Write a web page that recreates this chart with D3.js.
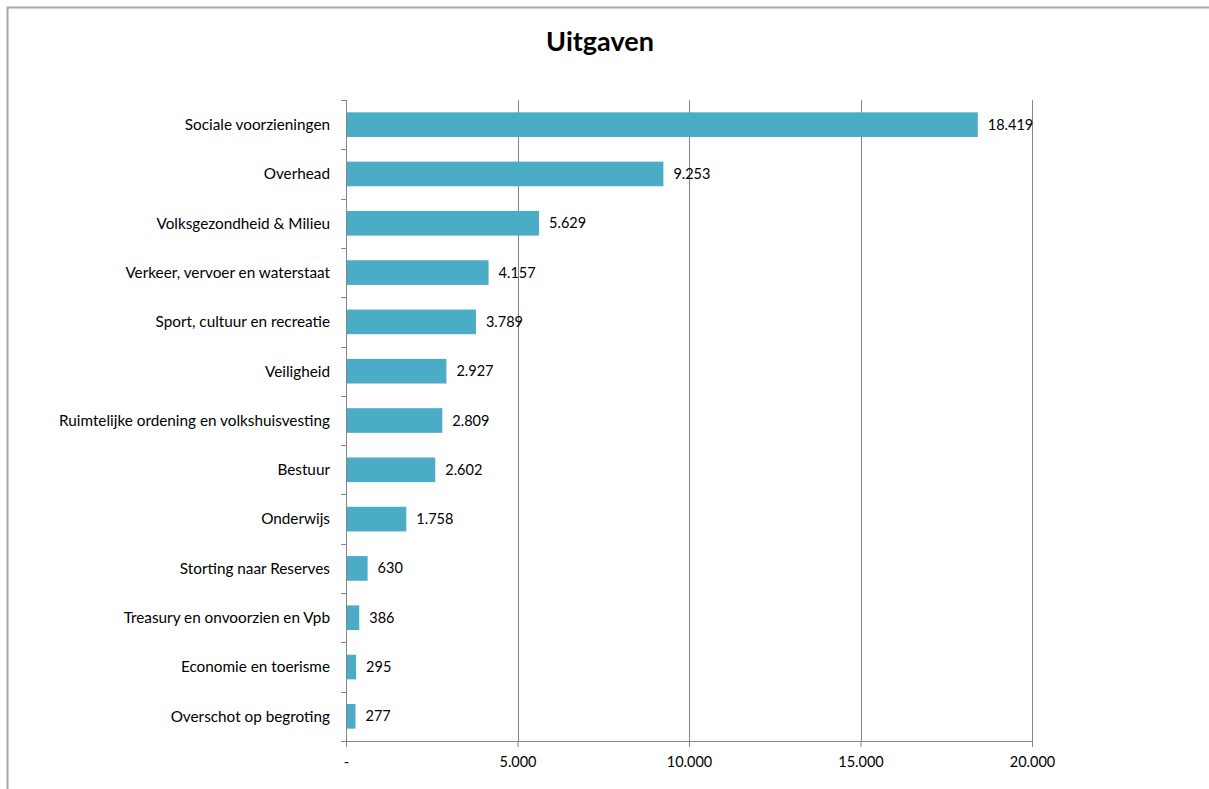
<!DOCTYPE html>
<html>
<head>
<meta charset="utf-8">
<script src="https://cdn.jsdelivr.net/npm/d3@7"></script>
<style>
  body { margin: 0; background: #fff; }
  svg { font-family: Lato, Carlito, Calibri, sans-serif; }
</style>
</head>
<body>
<svg id="chart"></svg>
<script>
const categories = [
  'Sociale voorzieningen',
  'Overhead',
  'Volksgezondheid & Milieu',
  'Verkeer, vervoer en waterstaat',
  'Sport, cultuur en recreatie',
  'Veiligheid',
  'Ruimtelijke ordening en volkshuisvesting',
  'Bestuur',
  'Onderwijs',
  'Storting naar Reserves',
  'Treasury en onvoorzien en Vpb',
  'Economie en toerisme',
  'Overschot op begroting'
];
const values = [18419, 9253, 5629, 4157, 3789, 2927, 2809, 2602, 1758, 630, 386, 295, 277];
const tickValues = [0, 5000, 10000, 15000, 20000];
const title = 'Uitgaven';

const width = 1209;
const height = 789;
const margin = { top: 100, left: 346, right: 177, bottom: 48 };

const svg = d3.select('#chart')
              .attr('width', width)
              .attr('height', height);

// outer frame (only top and left edge visible)
svg.append('path')
   .attr('d', `M7.5,${height} V7.5 H${width}`)
   .attr('fill', 'none')
   .attr('stroke', '#a6a6a6')
   .attr('stroke-width', 2);

svg.append('text')
   .attr('x', 600)
   .attr('y', 51)
   .attr('text-anchor', 'middle')
   .attr('font-size', 27)
   .attr('font-weight', 'bold')
   .attr('fill', '#000')
   .text(title);

const x = d3.scaleLinear()
            .domain([0, 20000])
            .range([margin.left, width - margin.right]);

const y = d3.scaleBand()
            .domain(categories)
            .range([margin.top, height - margin.bottom])
            .paddingInner(0.5)
            .paddingOuter(0.25);

const fmt = d => d === 0 ? '-' : d3.format(',')(d).replace(/,/g, '.');

// vertical gridlines
svg.append('g')
   .selectAll('line')
   .data(tickValues.slice(1))
   .enter()
   .append('line')
   .attr('x1', d => Math.round(x(d)) + 0.5)
   .attr('x2', d => Math.round(x(d)) + 0.5)
   .attr('y1', margin.top)
   .attr('y2', height - margin.bottom)
   .attr('stroke', '#868686')
   .attr('stroke-width', 1);

// bars
svg.append('g')
   .selectAll('rect')
   .data(values)
   .enter()
   .append('rect')
   .attr('x', x(0))
   .attr('y', (d, i) => y(categories[i]))
   .attr('width', d => x(d) - x(0))
   .attr('height', y.bandwidth())
   .attr('fill', '#4bacc6');

// value labels
svg.append('g')
   .selectAll('text')
   .data(values)
   .enter()
   .append('text')
   .attr('x', d => x(d) + 10)
   .attr('y', (d, i) => y(categories[i]) + y.bandwidth() / 2)
   .attr('dy', '0.35em')
   .attr('font-size', 14.5)
   .attr('fill', '#000')
   .text(d => fmt(d));

// x axis
const xAxis = d3.axisBottom(x)
                .tickValues(tickValues)
                .tickFormat(fmt)
                .tickSize(6)
                .tickPadding(10);

const gx = svg.append('g')
   .attr('transform', `translate(0, ${height - margin.bottom})`)
   .call(xAxis);
gx.selectAll('.domain').attr('stroke', '#868686');
gx.selectAll('.tick line').attr('stroke', '#868686');
gx.selectAll('.tick text')
  .attr('font-size', 14.5)
  .attr('font-family', 'Lato, Carlito, Calibri, sans-serif')
  .attr('fill', '#000');

// y axis with ticks between categories
const yEdges = d3.range(categories.length + 1).map(i => margin.top + i * y.step());
const gy = svg.append('g');
gy.append('line')
  .attr('x1', x(0) + 0.5)
  .attr('x2', x(0) + 0.5)
  .attr('y1', margin.top)
  .attr('y2', height - margin.bottom)
  .attr('stroke', '#868686');
gy.selectAll('line.tick')
  .data(yEdges)
  .enter()
  .append('line')
  .attr('class', 'tick')
  .attr('x1', x(0) - 5)
  .attr('x2', x(0))
  .attr('y1', d => Math.round(d) + 0.5)
  .attr('y2', d => Math.round(d) + 0.5)
  .attr('stroke', '#868686');

gy.selectAll('text')
  .data(categories)
  .enter()
  .append('text')
  .attr('x', x(0) - 16)
  .attr('y', d => y(d) + y.bandwidth() / 2)
  .attr('dy', '0.35em')
  .attr('text-anchor', 'end')
  .attr('font-size', 15.3)
  .attr('fill', '#000')
  .text(d => d);
</script>
</body>
</html>
